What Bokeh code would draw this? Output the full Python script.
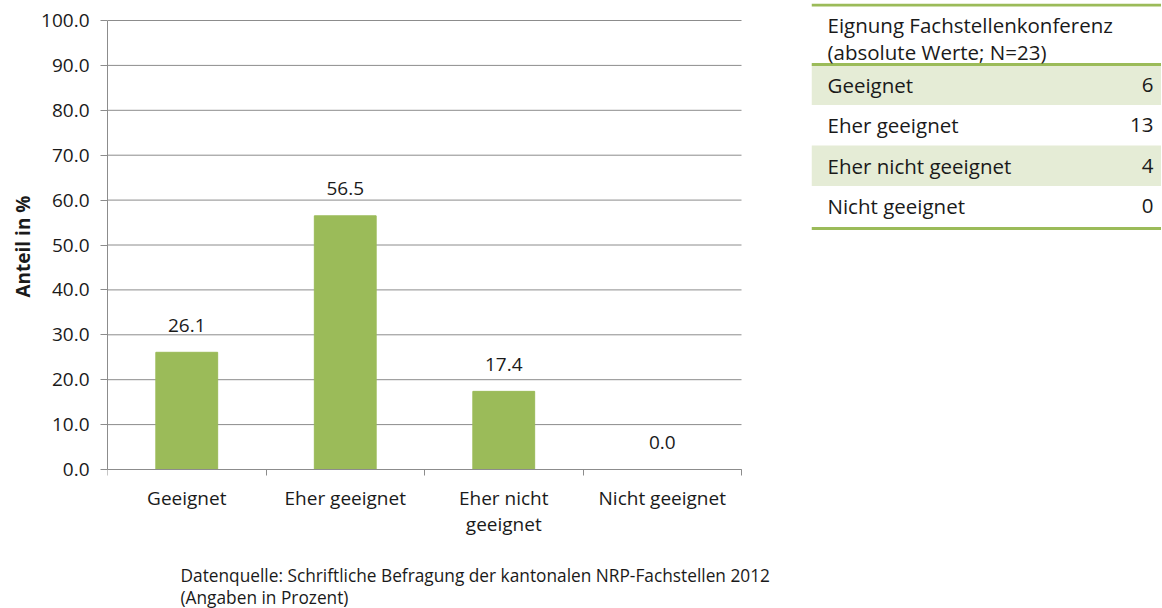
from bokeh.plotting import figure
from bokeh.models import Range1d, FixedTicker, NumeralTickFormatter, Title
from bokeh.layouts import row
from bokeh.core.properties import value
from bokeh.embed import file_html
from bokeh.resources import INLINE

# ---------------- data ----------------
categories = ["Geeignet", "Eher geeignet", "Eher nicht\ngeeignet", "Nicht geeignet"]
percent = [26.1, 56.5, 17.4, 0.0]
y_ticks = [0, 10, 20, 30, 40, 50, 60, 70, 80, 90, 100]
y_label = "Anteil in %"

table_title = ["Eignung Fachstellenkonferenz", "(absolute Werte; N=23)"]
table_labels = ["Geeignet", "Eher geeignet", "Eher nicht geeignet", "Nicht geeignet"]
counts = [6, 13, 4, 0]

source_note = ["Datenquelle: Schriftliche Befragung der  kantonalen NRP-Fachstellen 2012",
               "(Angaben in Prozent)"]

# ---------------- style / layout (pixels) ----------------
FONT = "Open Sans"
GREEN = "#9BBB59"
SHADE = "#E5ECD6"
GRID = "#8C8C8C"
TXT = "#1A1A1A"
H = 608
W = 811
LEFT = 107          # frame left
PLOT_RIGHT = 741    # right end of the bar area
TOP = 3             # frame top (shared with table)
AXIS_TOP = 20       # pixel of 100 %
AXIS_BOTTOM = 469   # pixel of 0 %
YLABEL_BOTTOM = 297 # pixel where the rotated y title starts

n = len(categories)
y_max = y_ticks[-1]
px_per_unit = (AXIS_BOTTOM - AXIS_TOP) / y_max
y_start = -(H - AXIS_BOTTOM) / px_per_unit
y_end = (AXIS_BOTTOM - TOP) / px_per_unit
x_end = n * (W - LEFT) / (PLOT_RIGHT - LEFT)

xc = [float(i) + 0.5 for i in range(n)]

p = figure(width=W, height=H, x_range=Range1d(0, x_end), y_range=Range1d(y_start, y_end),
           output_backend="svg", toolbar_location=None,
           min_border_left=LEFT, min_border_right=0, min_border_top=TOP, min_border_bottom=0)
p.outline_line_color = None
p.grid.visible = False

# horizontal grid lines over the category span
p.segment(x0=0, x1=n, y0=y_ticks, y1=y_ticks, line_color=GRID, line_width=1)

p.vbar(x=xc, top=percent, width=0.39, color=GREEN)
p.text(x=xc, y=percent, text=[f"{v:.1f}" for v in percent], text_align="center",
       text_baseline="middle", y_offset=-27, text_font=value(FONT),
       text_font_size="19px", text_color=TXT)

ya = p.yaxis[0]
ya.ticker = FixedTicker(ticks=y_ticks)
ya.bounds = (0, y_max)
ya.formatter = NumeralTickFormatter(format="0.0")
ya.major_tick_out = 7
ya.major_tick_in = 0
ya.minor_tick_out = 0
ya.minor_tick_in = 0
ya.axis_line_color = GRID
ya.major_tick_line_color = GRID
ya.major_label_standoff = 11
ya.major_label_text_font = FONT
ya.major_label_text_font_size = "19px"
ya.major_label_text_color = TXT

p.add_layout(Title(text=y_label, align="left", offset=H - YLABEL_BOTTOM, standoff=6,
                   text_font=FONT, text_font_size="19px", text_font_style="bold",
                   text_color=TXT), "left")

xa = p.xaxis[0]
xa.fixed_location = 0
xa.bounds = (0, n)
xa.ticker = FixedTicker(ticks=xc, minor_ticks=[float(i) for i in range(n + 1)])
xa.major_label_overrides = {x: c for x, c in zip(xc, categories)}
xa.major_tick_out = 0
xa.major_tick_in = 0
xa.minor_tick_out = 6
xa.minor_tick_in = 0
xa.minor_tick_line_color = GRID
xa.axis_line_color = GRID
xa.major_label_standoff = 9
xa.major_label_text_font = FONT
xa.major_label_text_font_size = "19px"
xa.major_label_text_line_height = 1.0
xa.major_label_text_color = TXT

# source note below the axis (offsets in pixels from the origin)
p.text(x=0, y=0, x_offset=73, y_offset=[106, 128], text=source_note,
       text_align="left", text_baseline="middle", text_font=value(FONT),
       text_font_size="17.3px", text_color=TXT)

# ---------------- table (y in page pixels, frame shared with chart) ----------------
TW = 350
header_h = 64.0
row_h = 40.5
t = figure(width=TW, height=H, x_range=Range1d(0, TW), y_range=Range1d(H, TOP),
           output_backend="svg", toolbar_location=None,
           x_axis_location=None, y_axis_location=None,
           min_border_left=0, min_border_right=0, min_border_top=TOP, min_border_bottom=0)
t.grid.visible = False
t.outline_line_color = None

tops = [header_h + i * row_h for i in range(len(table_labels))]
mids = [y + row_h / 2 for y in tops]
shade_idx = [i for i in range(len(table_labels)) if i % 2 == 0]
t.quad(left=0, right=TW, top=[tops[i] for i in shade_idx],
       bottom=[tops[i] + row_h for i in shade_idx], color=SHADE, line_color=None)

bottom_line = header_h + len(table_labels) * row_h + 2
t.segment(x0=0, x1=TW, y0=[TOP + 1.5, header_h, bottom_line],
          y1=[TOP + 1.5, header_h, bottom_line], line_color=GREEN, line_width=3)

t.text(x=16, y=[24, 51], text=table_title, text_baseline="middle", text_align="left",
       text_font=value(FONT), text_font_size="20.5px", text_color=TXT)
t.text(x=16, y=mids, text=table_labels, text_baseline="middle", text_align="left",
       text_font=value(FONT), text_font_size="20.5px", text_color=TXT)
t.text(x=TW - 8, y=mids, text=[str(c) for c in counts], text_baseline="middle",
       text_align="right", text_font=value(FONT), text_font_size="20.5px", text_color=TXT)

layout = row(p, t)
open("out.html", "w").write(file_html(layout, INLINE))
